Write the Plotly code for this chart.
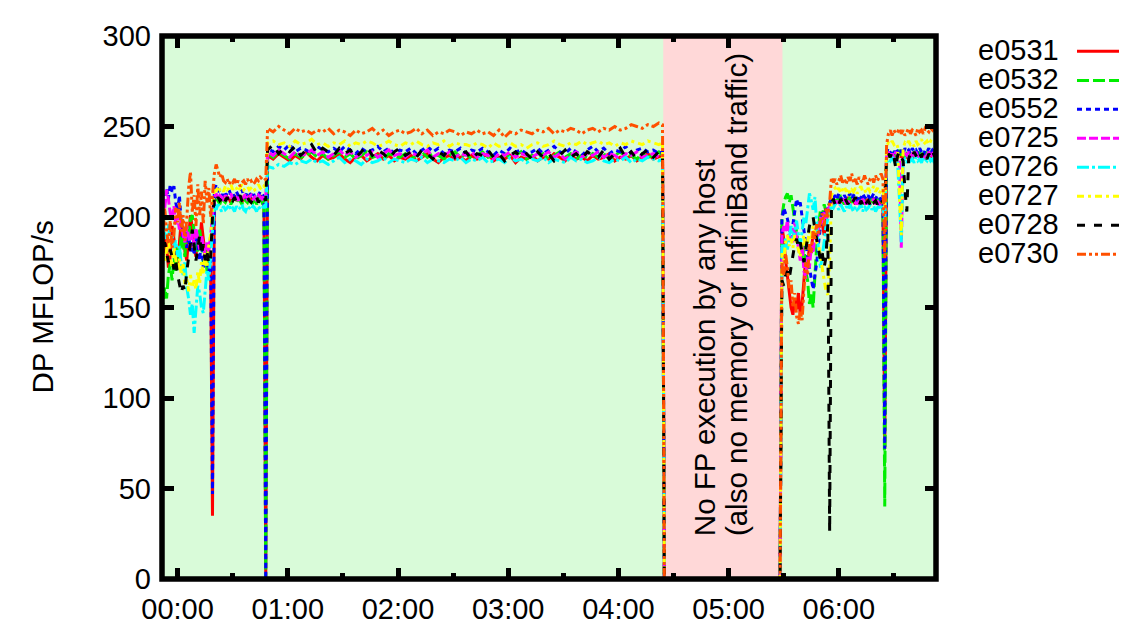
import plotly.graph_objects as go

# ---------------- data (minutes since 00:00, DP MFLOP/s) ----------------
T_EARLY = list(range(-9, 49))            # -9 .. 48, 1-min samples
T_MID = list(range(49, 263, 3)) + [264]  # 3-min samples
T_IDLE = [265, 328]                      # no FP execution
T_LATE = list(range(329, 414))           # 329 .. 413
TIME_MIN = T_EARLY + T_MID + T_IDLE + T_LATE

IDLE_START, IDLE_END = 264.4, 329.3

TICK_MIN = [0, 60, 120, 180, 240, 300, 360]
TICK_TEXT = ["00:00", "01:00", "02:00", "03:00", "04:00", "05:00", "06:00"]
MINOR_MIN = [30, 90, 150, 210, 270, 330, 390]
Y_TICKS = [0, 50, 100, 150, 200, 250, 300]

E0531 = ([182, 176, 190, 185, 172, 178, 195, 188, 180, 174,
          186, 198, 192, 181, 176, 189, 201, 194, 183, 178,
          190, 185, 197, 188, 179, 184, 176, 172,
          35,
          209, 211, 210, 208, 212, 210, 209, 211, 210, 208,
          210, 212, 209, 211, 210, 208, 211, 210, 209, 212,
          210, 209, 211, 208, 210, 212, 209, 210,
          0]
         + [234, 232, 235, 233, 231, 234, 232, 236, 233, 231, 234, 232,
            233, 235, 232, 230, 233, 234, 231, 233, 235, 232, 234, 231,
            233, 232, 234, 231, 233, 235, 232, 230, 233, 234, 232, 233,
            231, 234, 232, 233, 235, 231, 233, 232, 234, 230, 233, 232,
            234, 231, 233, 232, 235, 233, 231, 234, 232, 233, 231, 234,
            232, 233, 235, 231, 233, 232, 234, 231, 233, 235, 232, 233,
            234]
         + [0, 0]
         + [195, 188, 176, 168, 160, 150, 146, 155, 149, 158,
            146, 152, 165, 178, 172, 185, 180, 192, 188, 197,
            194, 200, 196, 190, 198, 202, 205, 208, 210, 207,
            209, 211, 208, 210, 207, 209, 211, 208, 210, 209,
            207, 210, 208, 211, 209, 207, 210, 208, 209, 211,
            208, 210, 209, 207, 210, 208, 72, 234, 236, 233,
            235, 232, 234, 236, 233, 235, 232, 234, 233, 235,
            234, 232, 235, 233, 236, 234, 232, 235, 233, 234,
            236, 233, 235, 234, 236])

E0532 = ([158, 152, 161, 155, 168, 174, 165, 178, 170, 183,
          176, 190, 185, 178, 195, 188, 199, 201, 192, 186,
          180, 193, 186, 175, 182, 170, 178, 185,
          196,
          208, 210, 209, 207, 211, 209, 208, 210, 209, 207,
          209, 211, 208, 210, 209, 207, 210, 209, 208, 211,
          209, 208, 210, 207, 209, 211, 208, 209,
          0]
         + [235, 233, 236, 234, 232, 235, 233, 234, 236, 233, 235, 232,
            234, 236, 233, 235, 232, 234, 236, 233, 234, 232, 235, 234,
            233, 235, 232, 234, 236, 233, 235, 234, 232, 234, 236, 233,
            235, 232, 234, 236, 233, 234, 232, 235, 233, 234, 236, 232,
            234, 233, 235, 232, 234, 236, 233, 235, 232, 234, 233, 235,
            233, 235, 232, 234, 236, 233, 234, 232, 235, 233, 234, 236,
            234]
         + [0, 0]
         + [200, 207, 211, 213, 208, 212, 205, 198, 190, 185,
            182, 176, 184, 170, 165, 152, 158, 150, 168, 185,
            195, 204, 200, 207, 203, 206, 208, 210, 209, 211,
            208, 210, 212, 209, 207, 210, 208, 211, 209, 207,
            210, 208, 209, 211, 207, 210, 209, 208, 211, 209,
            207, 210, 208, 211, 209, 208, 40, 235, 233, 236,
            234, 236, 233, 235, 237, 234, 236, 233, 235, 234,
            236, 233, 235, 237, 234, 236, 233, 235, 234, 236,
            233, 235, 237, 234, 236])

E0552 = ([205, 212, 208, 216, 210, 218, 214, 217, 208, 203,
          212, 196, 188, 194, 183, 190, 181, 186, 179, 192,
          184, 176, 188, 172, 180, 175, 170, 176,
          47,
          214, 218, 215, 213, 211, 214, 212, 213, 215, 212,
          213, 211, 214, 212, 213, 215, 212, 211, 214, 213,
          212, 214, 211, 213, 212, 214, 213, 211,
          0]
         + [238, 236, 239, 237, 240, 236, 238, 237, 235, 239, 237, 236,
            238, 236, 239, 237, 235, 238, 236, 237, 239, 236, 238, 235,
            237, 236, 238, 235, 237, 239, 236, 238, 235, 237, 236, 238,
            235, 237, 236, 238, 236, 234, 237, 235, 238, 236, 237, 235,
            236, 238, 235, 237, 239, 236, 235, 238, 236, 234, 237, 239,
            236, 238, 235, 237, 236, 239, 235, 237, 238, 236, 237, 235,
            236]
         + [0, 0]
         + [198, 205, 202, 199, 194, 188, 196, 203, 210, 206,
            208, 200, 192, 185, 178, 172, 165, 160, 168, 175,
            186, 195, 203, 199, 206, 204, 208, 211, 210, 212,
            210, 213, 211, 209, 212, 210, 211, 213, 210, 212,
            211, 209, 212, 210, 213, 211, 210, 212, 209, 211,
            213, 210, 212, 211, 209, 212, 72, 236, 238, 235,
            237, 235, 238, 236, 234, 237, 235, 238, 236, 237,
            235, 238, 236, 237, 235, 238, 236, 234, 237, 236,
            238, 235, 237, 236, 238])

E0725 = ([208, 213, 205, 215, 210, 202, 199, 206, 196, 201,
          193, 198, 190, 186, 195, 189, 183, 191, 185, 194,
          188, 182, 190, 184, 179, 186, 181, 190,
          200,
          211, 213, 210, 212, 211, 209, 212, 210, 211, 213,
          210, 212, 211, 209, 212, 210, 211, 213, 210, 211,
          212, 210, 211, 209, 212, 211, 210, 212,
          211]
         + [236, 234, 237, 235, 233, 236, 234, 235, 237, 234, 236, 233,
            235, 237, 234, 236, 233, 235, 234, 236, 233, 235, 237, 234,
            235, 233, 236, 234, 235, 237, 233, 235, 234, 236, 233, 235,
            234, 236, 233, 235, 234, 232, 235, 234, 236, 233, 235, 234,
            233, 235, 234, 236, 233, 235, 232, 234, 236, 233, 235, 234,
            236, 233, 235, 234, 232, 235, 234, 236, 233, 234, 235, 233,
            234]
         + [0, 0]
         + [190, 195, 192, 198, 188, 194, 186, 197, 190, 182,
            176, 185, 170, 166, 178, 172, 184, 180, 190, 186,
            194, 200, 196, 203, 199, 204, 206, 208, 207, 209,
            207, 209, 206, 208, 210, 207, 209, 206, 208, 210,
            208, 206, 209, 207, 210, 208, 206, 209, 207, 208,
            210, 207, 209, 206, 208, 209, 208, 234, 236, 233,
            235, 233, 236, 234, 232, 183, 233, 235, 234, 236,
            233, 235, 234, 236, 233, 235, 234, 232, 235, 234,
            236, 233, 235, 234, 236])

E0726 = ([195, 199, 191, 188, 196, 185, 190, 182, 187, 178,
          184, 173, 168, 175, 161, 155, 146, 152, 136, 149,
          162, 158, 150, 147, 160, 171, 165, 178,
          195,
          206, 204, 207, 205, 203, 206, 204, 205, 207, 204,
          205, 203, 206, 204, 205, 207, 204, 203, 206, 205,
          204, 206, 205, 203, 206, 204, 205, 206,
          205]
         + [228, 227, 229, 228, 230, 229, 231, 230, 232, 230, 231, 229,
            231, 233, 230, 232, 231, 229, 232, 230, 231, 233, 230, 232,
            231, 230, 232, 231, 233, 230, 232, 231, 230, 232, 231, 233,
            230, 232, 231, 233, 230, 231, 232, 230, 233, 231, 232, 230,
            232, 231, 233, 230, 232, 231, 230, 233, 231, 232, 230, 231,
            233, 231, 230, 232, 231, 233, 230, 232, 231, 233, 232, 231,
            232]
         + [0, 0]
         + [185, 180, 188, 182, 190, 195, 187, 192, 198, 190,
            185, 192, 200, 196, 206, 213, 209, 204, 211, 195,
            180, 172, 178, 186, 195, 200, 203, 206, 205, 207,
            206, 204, 207, 205, 203, 206, 204, 207, 205, 203,
            206, 204, 205, 207, 203, 206, 204, 205, 207, 204,
            206, 203, 205, 207, 204, 206, 197, 230, 232, 231,
            233, 231, 232, 230, 210, 186, 231, 232, 230, 233,
            231, 232, 230, 233, 231, 232, 230, 233, 232, 231,
            233, 231, 232, 230, 232])

E0727 = ([178, 184, 175, 181, 188, 179, 172, 183, 176, 170,
          177, 168, 174, 163, 166, 159, 168, 161, 165, 160,
          170, 163, 175, 168, 180, 172, 185, 190,
          205,
          216, 214, 217, 215, 216, 214, 217, 215, 216, 218,
          215, 217, 216, 214, 216, 218, 215, 216, 217, 215,
          216, 217, 215, 216, 218, 216, 215, 217,
          216]
         + [241, 242, 240, 241, 239, 242, 240, 241, 243, 240, 241, 239,
            241, 240, 242, 239, 241, 240, 242, 241, 239, 240, 242, 240,
            239, 241, 240, 242, 240, 239, 241, 240, 242, 239, 241, 240,
            240, 239, 241, 240, 238, 241, 239, 240, 241, 239, 240, 238,
            240, 241, 239, 240, 242, 240, 239, 241, 240, 242, 240, 241,
            242, 240, 241, 239, 241, 240, 242, 241, 240, 242, 241, 240,
            241]
         + [0, 0]
         + [180, 176, 186, 190, 184, 188, 183, 190, 186, 181,
            178, 185, 190, 182, 186, 192, 188, 195, 190, 186,
            184, 178, 172, 165, 159, 157, 176, 212, 215, 216,
            214, 216, 213, 215, 217, 214, 216, 213, 215, 214,
            216, 213, 215, 217, 214, 215, 213, 216, 214, 215,
            217, 214, 216, 213, 215, 216, 205, 239, 241, 240,
            242, 240, 241, 239, 212, 190, 238, 241, 240, 242,
            240, 241, 239, 242, 240, 241, 243, 240, 241, 242,
            240, 242, 241, 240, 242])

E0728 = ([183, 179, 186, 181, 175, 182, 178, 171, 176, 168,
          163, 158, 162, 159, 170, 178, 186, 193, 184, 176,
          182, 190, 179, 185, 176, 181, 174, 178,
          200,
          210, 208, 211, 209, 210, 207, 209, 211, 208, 210,
          209, 211, 208, 210, 212, 209, 208, 210, 211, 209,
          208, 210, 209, 211, 208, 210, 209, 211,
          209]
         + [237, 240, 235, 238, 236, 239, 234, 237, 240, 235, 238, 236,
            234, 238, 235, 237, 233, 236, 239, 234, 237, 235, 232, 236,
            238, 234, 236, 233, 237, 235, 232, 236, 234, 238, 233, 235,
            236, 232, 235, 234, 237, 233, 235, 231, 234, 236, 233, 235,
            232, 236, 233, 235, 231, 234, 237, 233, 235, 232, 236, 234,
            233, 237, 232, 235, 238, 233, 236, 232, 235, 237, 233, 236,
            234]
         + [0, 0]
         + [165, 162, 168, 170, 166, 172, 178, 185, 188, 183,
            186, 180, 175, 182, 190, 195, 199, 200, 193, 188,
            183, 176, 180, 172, 178, 196, 26, 208, 210, 207,
            209, 207, 210, 208, 211, 209, 207, 210, 208, 209,
            211, 208, 206, 209, 207, 210, 208, 209, 207, 210,
            208, 209, 207, 210, 208, 209, 209, 232, 235, 233,
            236, 233, 227, 234, 236, 233, 231, 215, 203, 232,
            235, 233, 236, 234, 232, 235, 233, 236, 234, 232,
            235, 233, 236, 234, 235])

E0730 = ([196, 188, 205, 192, 185, 198, 183, 190, 205, 197,
          208, 192, 201, 187, 199, 216, 225, 203, 212, 195,
          218, 201, 214, 196, 220, 208, 216, 200,
          212,
          224, 229, 226, 222, 224, 220, 219, 221, 218, 220,
          219, 221, 218, 220, 217, 219, 220, 218, 221, 219,
          220, 218, 219, 221, 220, 222, 221, 220,
          221]
         + [249, 247, 250, 248, 246, 249, 247, 248, 246, 248, 247, 249,
            246, 248, 247, 245, 248, 246, 247, 249, 246, 248, 245, 247,
            248, 246, 247, 249, 246, 248, 245, 247, 246, 248, 247, 245,
            247, 246, 248, 246, 247, 245, 248, 244, 247, 246, 248, 247,
            246, 248, 247, 249, 246, 248, 247, 249, 248, 246, 248, 249,
            247, 249, 248, 250, 248, 249, 251, 250, 249, 251, 250, 252,
            251]
         + [0, 0]
         + [175, 168, 180, 172, 160, 165, 150, 158, 145, 141,
            148, 143, 160, 175, 168, 185, 180, 192, 188, 196,
            190, 198, 202, 195, 205, 200, 208, 222, 219, 221,
            218, 220, 223, 219, 221, 218, 222, 220, 224, 219,
            221, 218, 222, 220, 219, 223, 220, 218, 221, 222,
            219, 223, 220, 222, 224, 221, 177, 240, 246, 248,
            245, 248, 246, 247, 249, 246, 248, 245, 247, 249,
            246, 248, 247, 245, 249, 247, 248, 246, 249, 248,
            247, 249, 248, 250, 248])

HOSTS = ["e0531", "e0532", "e0552", "e0725", "e0726", "e0727", "e0728", "e0730"]
VALUES = [E0531, E0532, E0552, E0725, E0726, E0727, E0728, E0730]
COLORS = ["#FF0000", "#00EE00", "#0000FF", "#FF00FF", "#00FFFF", "#FFFF00",
          "#000000", "#FF5000"]
DASHES = ["solid", "12px,4px", "5px,4px", "9px,3px", "12px,3px,3px,3px",
          "7px,4px,3px,4px", "8px,9px", "9px,3px,3px,3px,3px,3px"]

for name, vals in zip(HOSTS, VALUES):
    assert len(vals) == len(TIME_MIN), (name, len(vals), len(TIME_MIN))

# ---------------- figure ----------------
FONT = "Liberation Sans, Arial, Helvetica, sans-serif"
FS = 29
BODY = 8                      # default page margin of the html body
W, H = 1127 - BODY, 637 - BODY
ML, MR, MT, MB = 162 - BODY, 1127 - 936, 33 - BODY, 56
PW, PH = W - ML - MR, H - MT - MB


def px_x(px):  # page pixel -> paper x
    return (px - BODY - ML) / PW


def px_y(py):  # page pixel -> paper y
    return 1 - (py - BODY - MT) / PH


fig = go.Figure()
for name, vals, color, dash in zip(HOSTS, VALUES, COLORS, DASHES):
    fig.add_trace(go.Scatter(x=TIME_MIN, y=vals, mode="lines", name=name,
                             line=dict(color=color, width=3, dash=dash)))

# idle period shading
fig.add_shape(type="rect", xref="x", yref="paper", x0=IDLE_START, x1=IDLE_END,
              y0=0, y1=1, fillcolor="#FFD8D8", line=dict(width=0), layer="below")
# gnuplot-style border centred on the plot edge
fig.add_shape(type="rect", xref="paper", yref="paper", x0=0, x1=1, y0=0, y1=1,
              line=dict(color="black", width=5.5), fillcolor="rgba(0,0,0,0)",
              layer="above")

annotations = []
for xm, txt in [(286.8, "No FP execution by any host"),
                (304.2, "(also no memory or InfiniBand traffic)")]:
    annotations.append(dict(x=xm, y=22.5, xref="x", yref="y", text=txt,
                            textangle=-90, showarrow=False, xanchor="center",
                            yanchor="bottom",
                            font=dict(family=FONT, size=29.5, color="black")))

annotations.append(dict(x=px_x(42), y=0.5, xref="paper", yref="paper",
                        text="DP MFLOP/s", textangle=-90, showarrow=False,
                        xanchor="center", yanchor="middle",
                        font=dict(family=FONT, size=29.5, color="black")))

key_y = [47.5, 76.8, 106, 135.2, 164.5, 193.7, 223, 252.2]
for name, color, dash, yp in zip(HOSTS, COLORS, DASHES, key_y):
    annotations.append(dict(x=px_x(1061), y=px_y(yp), xref="paper", yref="paper",
                            text=name, showarrow=False, xanchor="right",
                            yanchor="middle",
                            font=dict(family=FONT, size=FS, color="black")))
    fig.add_shape(type="line", xref="paper", yref="paper",
                  x0=px_x(1077), x1=px_x(1140), y0=px_y(yp + 1), y1=px_y(yp + 1),
                  line=dict(color=color, width=3, dash=dash))

axis_common = dict(showline=False, mirror="allticks",
                   ticks="inside", ticklen=11.5, tickwidth=4.5, tickcolor="black",
                   showgrid=False, zeroline=False,
                   tickfont=dict(family=FONT, size=FS, color="black"))

fig.update_layout(
    width=W, height=H,
    margin=dict(l=ML, r=MR, t=MT, b=MB, pad=0),
    paper_bgcolor="white", plot_bgcolor="#D9FBD9",
    showlegend=False,
    annotations=annotations,
    xaxis=dict(range=[-8.49, 412.9], tickmode="array", tickvals=TICK_MIN,
               ticktext=TICK_TEXT, ticklabelstandoff=10,
               minor=dict(tickmode="array", tickvals=MINOR_MIN, ticks="inside",
                          ticklen=6, tickwidth=4.5, tickcolor="black"),
               **axis_common),
    yaxis=dict(range=[0, 300], tickmode="array", tickvals=Y_TICKS,
               ticklabelstandoff=10, **axis_common),
)

fig.write_html("out.html")
